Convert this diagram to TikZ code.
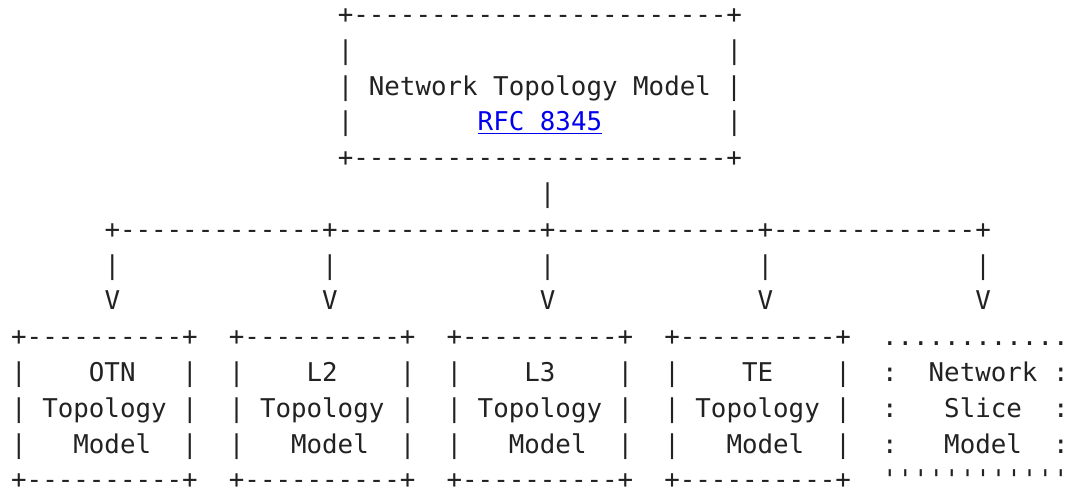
\documentclass[tikz,border=0pt]{standalone}
\usepackage{fontspec}
\setmonofont{DejaVu Sans Mono}
\definecolor{ink}{HTML}{222222}
\definecolor{link}{HTML}{0000EE}
\newcommand\asciilines[1]{\vtop{\baselineskip=35.8pt\lineskiplimit=-\maxdimen\lineskip=0pt #1}}
\tikzset{
  ascii/.style={font=\ttfamily\fontsize{25.83}{35.8}\selectfont, text=ink,
    anchor=base west, inner sep=0pt, outer sep=0pt},
  linktext/.style={ascii, text=link},
  underline/.style={draw=link, line width=1.2pt}
}
\begin{document}
\begin{tikzpicture}[x=1pt,y=1pt]
\useasboundingbox (0,0) rectangle (1069,-490);
\fill[white] (0,0) rectangle (1069,-490);
% top box
\node[ascii] (top) at (337.75,-23.4) {\asciilines{%
\hbox{+------------------------+}%
\hbox{|~~~~~~~~~~~~~~~~~~~~~~~~|}%
\hbox{|~Network~Topology~Model~|}%
\hbox{|~~~~~~~~~~~~~~~~~~~~~~~~|}%
\hbox{+------------------------+}}};
\node[linktext] (rfc) at (477.7,-130.8) {RFC~8345};
\draw[underline] ([yshift=-2.6pt]rfc.base west) -- ([yshift=-2.6pt]rfc.base east);
% stem and bus
\node[ascii] (stem) at (539.9,-202.4) {|};
\node[ascii] (bus) at (104.5,-238.2) {+-------------+-------------+-------------+-------------+};
% drops
\node[ascii] (drop1) at (104.5,-274.0) {\asciilines{\hbox{|}\hbox{V}}};
\node[ascii] (drop2) at (322.2,-274.0) {\asciilines{\hbox{|}\hbox{V}}};
\node[ascii] (drop3) at (539.9,-274.0) {\asciilines{\hbox{|}\hbox{V}}};
\node[ascii] (drop4) at (757.6,-274.0) {\asciilines{\hbox{|}\hbox{V}}};
\node[ascii] (drop5) at (975.3,-274.0) {\asciilines{\hbox{|}\hbox{V}}};
% bottom boxes
\node[ascii] (otn) at (11.2,-345.6) {\asciilines{%
\hbox{+----------+}%
\hbox{|~~~~OTN~~~|}%
\hbox{|~Topology~|}%
\hbox{|~~~Model~~|}%
\hbox{+----------+}}};
\node[ascii] (l2) at (228.9,-345.6) {\asciilines{%
\hbox{+----------+}%
\hbox{|~~~~L2~~~~|}%
\hbox{|~Topology~|}%
\hbox{|~~~Model~~|}%
\hbox{+----------+}}};
\node[ascii] (l3) at (446.6,-345.6) {\asciilines{%
\hbox{+----------+}%
\hbox{|~~~~L3~~~~|}%
\hbox{|~Topology~|}%
\hbox{|~~~Model~~|}%
\hbox{+----------+}}};
\node[ascii] (te) at (664.3,-345.6) {\asciilines{%
\hbox{+----------+}%
\hbox{|~~~~TE~~~~|}%
\hbox{|~Topology~|}%
\hbox{|~~~Model~~|}%
\hbox{+----------+}}};
\node[ascii] (slice) at (882.0,-345.6) {\asciilines{%
\hbox{............}%
\hbox{:~~Network~:}%
\hbox{:~~~Slice~~:}%
\hbox{:~~~Model~~:}%
\hbox{''''''''''''}}};
\end{tikzpicture}
\end{document}
